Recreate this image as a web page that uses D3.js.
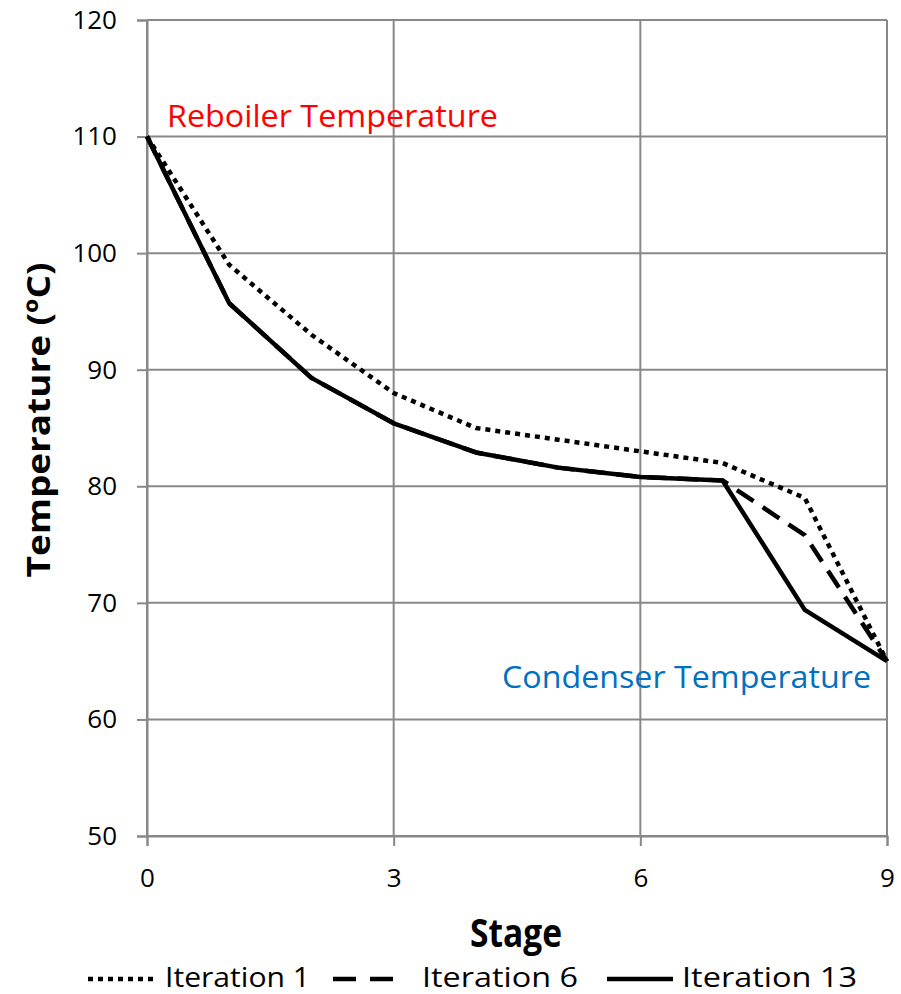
<!DOCTYPE html>
<html>
<head>
<meta charset="utf-8">
<script src="https://cdn.jsdelivr.net/npm/d3@7"></script>
<style>
  body { margin: 0; background: #fff; }
  text { font-family: "Open Sans", "Liberation Sans", sans-serif; }
</style>
</head>
<body>
<svg id="chart" width="901" height="994"></svg>
<script>
// stages along the column
var stages = [0, 1, 2, 3, 4, 5, 6, 7, 8, 9];
var iter1 = [110, 99, 93, 88, 85, 84, 83, 82, 79, 65];
var iter6 = [110, 95.7, 89.3, 85.4, 82.9, 81.6, 80.8, 80.5, 75.8, 65];
var iter13 = [110, 95.7, 89.3, 85.4, 82.9, 81.6, 80.8, 80.5, 69.4, 65];
var seriesNames = ["Iteration 1", "Iteration 6", "Iteration 13"];
var xTicks = [0, 3, 6, 9];
var yTicks = [50, 60, 70, 80, 90, 100, 110, 120];

var svg = d3.select("#chart");
var plotL = 147, plotR = 887, plotT = 20, plotB = 836;

var x = d3.scaleLinear().domain([0, 9]).range([plotL, plotR]);
var y = d3.scaleLinear().domain([50, 120]).range([plotB, plotT]);

var gridColor = "#888888";

// grid
svg.append("g").selectAll("line")
  .data(yTicks).enter().append("line")
    .attr("x1", plotL).attr("x2", plotR)
    .attr("y1", function(d) { return y(d); }).attr("y2", function(d) { return y(d); })
    .attr("stroke", gridColor).attr("stroke-width", 2);
svg.append("g").selectAll("line")
  .data(xTicks).enter().append("line")
    .attr("x1", function(d) { return x(d); }).attr("x2", function(d) { return x(d); })
    .attr("y1", plotT).attr("y2", plotB)
    .attr("stroke", gridColor).attr("stroke-width", 2);

// axes
var yAxis = svg.append("g")
    .attr("transform", "translate(" + plotL + ",0)")
    .call(d3.axisLeft(y).tickValues(yTicks).tickSize(10).tickPadding(20));
var xAxis = svg.append("g")
    .attr("transform", "translate(0," + plotB + ")")
    .call(d3.axisBottom(x).tickValues(xTicks).tickSize(10).tickPadding(23));
[yAxis, xAxis].forEach(function(a) {
  a.select(".domain").attr("stroke", gridColor).attr("stroke-width", 2);
  a.selectAll(".tick line").attr("stroke", gridColor).attr("stroke-width", 2);
  a.selectAll(".tick text")
    .style("font-family", "'Open Sans', sans-serif")
    .style("font-size", "26px").attr("fill", "#000");
});

// lines
var line = d3.line()
  .x(function(d, i) { return x(stages[i]); })
  .y(function(d) { return y(d); });

var styles = [
  {data: iter1, dash: "5,5"},
  {data: iter6, dash: "20,11"},
  {data: iter13, dash: null}
];
styles.forEach(function(s) {
  svg.append("path")
    .datum(s.data)
    .attr("d", line)
    .attr("fill", "none")
    .attr("stroke", "#000")
    .attr("stroke-width", 4.5)
    .attr("stroke-linejoin", "round")
    .attr("stroke-dasharray", s.dash);
});

// annotations
svg.append("text")
  .attr("x", 167).attr("y", 127)
  .attr("fill", "#ff0000")
  .attr("textLength", 331).attr("lengthAdjust", "spacingAndGlyphs")
  .style("font-size", "31px")
  .text("Reboiler Temperature");
svg.append("text")
  .attr("x", 502).attr("y", 688)
  .attr("fill", "#0070c0")
  .attr("textLength", 369).attr("lengthAdjust", "spacingAndGlyphs")
  .style("font-size", "31px")
  .text("Condenser Temperature");

// axis titles
svg.append("text")
  .attr("transform", "translate(50,420) rotate(-90)")
  .attr("text-anchor", "middle")
  .attr("textLength", 315).attr("lengthAdjust", "spacingAndGlyphs")
  .style("font-size", "33px").style("font-weight", "bold")
  .text("Temperature (ºC)");
svg.append("text")
  .attr("x", 516).attr("y", 947)
  .attr("text-anchor", "middle")
  .attr("textLength", 92).attr("lengthAdjust", "spacingAndGlyphs")
  .style("font-size", "40px").style("font-weight", "bold")
  .text("Stage");

// legend
var legend = [
  {x1: 88, x2: 156, tx: 165, w: 145, dash: "5,5"},
  {x1: 333, x2: 393, tx: 422, w: 156, dash: "23,14"},
  {x1: 607, x2: 673, tx: 682, w: 175, dash: null}
];
legend.forEach(function(l, i) {
  svg.append("line")
    .attr("x1", l.x1).attr("x2", l.x2)
    .attr("y1", 979).attr("y2", 979)
    .attr("stroke", "#000").attr("stroke-width", 4.5)
    .attr("stroke-dasharray", l.dash);
  svg.append("text")
    .attr("x", l.tx).attr("y", 987)
    .attr("textLength", l.w).attr("lengthAdjust", "spacingAndGlyphs")
    .style("font-size", "27px")
    .text(seriesNames[i]);
});
</script>
</body>
</html>
